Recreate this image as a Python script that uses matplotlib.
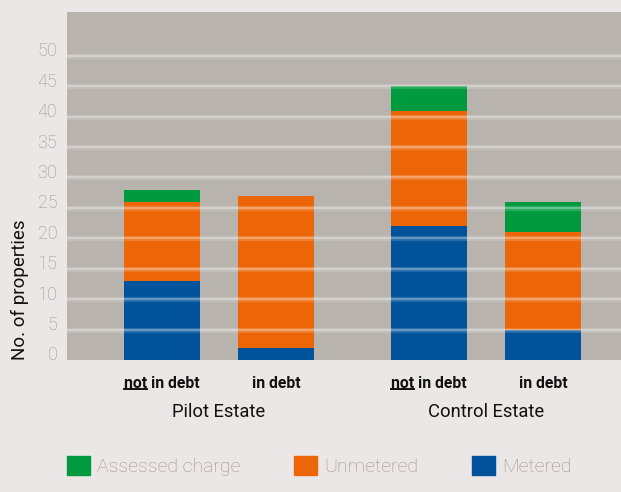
import numpy as np
import matplotlib.pyplot as plt
import matplotlib.transforms as mtransforms
from matplotlib.patches import Patch
from matplotlib.lines import Line2D

# data
groups = ['Pilot Estate', 'Control Estate']
bar_labels = ['not in debt', 'in debt', 'not in debt', 'in debt']
metered = [13, 2, 22, 5]
unmetered = [13, 25, 19, 16]
assessed = [2, 0, 4, 5]
yticks = [0, 5, 10, 15, 20, 25, 30, 35, 40, 45, 50]

c_blue = '#00529b'
c_orange = '#ec6608'
c_green = '#009a3e'
c_fig = '#ebe7e6'
c_ax = '#b8b3ad'
c_tick = '#9a948f'

plt.rcParams['font.family'] = ['Roboto', 'DejaVu Sans']

fig = plt.figure(figsize=(6.21, 4.92), dpi=100, facecolor=c_fig)
ax = fig.add_axes([67 / 621, 1 - 360 / 492, 1 - 67 / 621, 348 / 492])
ax.set_facecolor(c_ax)

x = np.array([0, 1, 2.342, 3.342])
w = 0.667
m = np.array(metered)
u = np.array(unmetered)
a = np.array(assessed)
ax.bar(x, m, w, color=c_blue, zorder=2)
ax.bar(x, u, w, bottom=m, color=c_orange, zorder=2)
ax.bar(x, a, w, bottom=m + u, color=c_green, zorder=2)

# glowing grid lines drawn over the bars
for t in yticks[1:]:
    ax.axhline(t, color='white', lw=3.8, alpha=0.15, zorder=3)
    ax.axhline(t, color='white', lw=1.6, alpha=0.3, zorder=3)

ax.set_xlim(-0.833, 4.026)
ax.set_ylim(0, 57.2)
ax.set_yticks(yticks)
ax.set_yticklabels([str(t) for t in yticks], fontsize=13, color=c_tick,
                   fontweight='light')
ax.tick_params(axis='y', length=0, pad=7)
shift = mtransforms.ScaledTranslation(0, 4.5 / 100, fig.dpi_scale_trans)
for lab in ax.get_yticklabels():
    lab.set_va('center')
    lab.set_transform(lab.get_transform() + shift)
ax.set_xticks([])
for s in ax.spines.values():
    s.set_visible(False)

fig.text(20 / 621, 1 - 290 / 492, 'No. of properties', rotation=90,
         ha='center', va='center', fontsize=13.5, color='#111111')

# category labels under bars
renderer = fig.canvas.get_renderer()
for xi, lab in zip(x, bar_labels):
    txt = ax.text(xi, -3.8, lab, ha='center', va='center', fontsize=11.3,
                  fontweight='bold', color='#111111')
    if lab.startswith('not'):
        bb = txt.get_window_extent(renderer)
        probe = ax.text(0, 0, 'not', fontsize=11.3, fontweight='bold')
        pw = probe.get_window_extent(renderer).width
        probe.remove()
        y_line = bb.y0 + 1.8
        fig.add_artist(Line2D([bb.x0 / fig.bbox.width, (bb.x0 + pw) / fig.bbox.width],
                              [y_line / fig.bbox.height] * 2,
                              color='#111111', lw=1.4))
ax.text((x[0] + x[1]) / 2, -8.6, groups[0], ha='center', va='center',
        fontsize=13.2, color='#111111')
ax.text((x[2] + x[3]) / 2, -8.6, groups[1], ha='center', va='center',
        fontsize=13.2, color='#111111')

handles = [Patch(color=c_green, label='Assessed charge'),
           Patch(color=c_orange, label='Unmetered'),
           Patch(color=c_blue, label='Metered')]
leg = fig.legend(handles=handles, loc='center left',
                 bbox_to_anchor=(67 / 621, 1 - 466 / 492), ncol=3,
                 frameon=False, fontsize=14, handlelength=1.18,
                 handleheight=1.18, handletextpad=0.38, columnspacing=2.75,
                 borderpad=0, borderaxespad=0)
for t in leg.get_texts():
    t.set_color(c_tick)
    t.set_fontweight('light')

fig.savefig('out.png', dpi=100, facecolor=c_fig)
